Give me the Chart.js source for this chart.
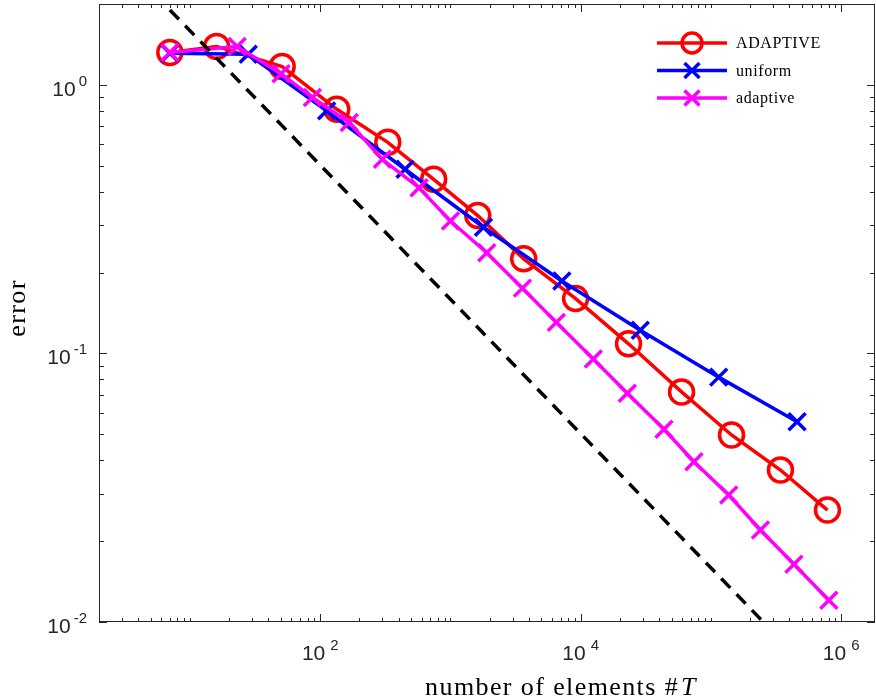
<!DOCTYPE html>
<html>
<head>
<meta charset="utf-8">
<title>error vs number of elements</title>
<script src="https://cdn.jsdelivr.net/npm/chart.js@4.4.0/dist/chart.umd.min.js"></script>
<style>
  html, body { margin: 0; padding: 0; background: #fff; }
  #chart { display: block; }
</style>
</head>
<body>
<canvas id="chart" width="876" height="700"></canvas>
<script>
// --- data ---
const nADAPTIVE = [7, 16, 51, 134, 330, 743, 1620, 3650, 9140, 23300, 59500, 144000, 342000, 785000];
const errADAPTIVE = [1.32, 1.39, 1.17, 0.811, 0.611, 0.445, 0.326, 0.225, 0.160, 0.1086, 0.0719, 0.0497, 0.0368, 0.0261];

const nUniform = [7, 28, 112, 448, 1792, 7168, 28672, 114688, 458752];
const errUniform = [1.31, 1.30, 0.80, 0.485, 0.295, 0.186, 0.122, 0.0816, 0.0557];

const nAdaptive = [7, 23, 50, 87, 167, 300, 574, 1000, 1900, 3570, 6500, 12500, 22800, 43600, 74100, 137000, 240000, 434000, 805000];
const errAdaptive = [1.32, 1.39, 1.10, 0.897, 0.724, 0.528, 0.414, 0.311, 0.237, 0.175, 0.1305, 0.0953, 0.0711, 0.0522, 0.0395, 0.0297, 0.0220, 0.0164, 0.01205];

// reference slope N^(-1/2)
const nSlope = [7, 1000000];
const errSlope = [1.9, 0.00503];

const xRange = [2, 1.82e6];
const yRange = [0.01, 2];
const xLabelTicks = [1e2, 1e4, 1e6];
const xLabelExp = ['2', '4', '6'];
const yLabelTicks = [1e0, 1e-1, 1e-2];
const yLabelExp = ['0', '-1', '-2'];

const axisColor = '#262626';
const serif = '"Liberation Serif", "Times New Roman", serif';

function pairs(xs, ys) {
  return xs.map((x, i) => ({ x: x, y: ys[i] }));
}

// --- axes box, inward ticks and tick labels (MATLAB look) ---
function drawPower(ctx, exp, x, y, align, gap) {
  ctx.font = '21px "Liberation Sans", Arial, sans-serif';
  const wBase = ctx.measureText('10').width;
  ctx.font = '15px "Liberation Sans", Arial, sans-serif';
  const wExp = ctx.measureText(exp).width;
  const total = wBase + gap + wExp;
  let start = x;
  if (align === 'center') start = x - total / 2;
  if (align === 'right') start = x - total;
  ctx.textAlign = 'left';
  ctx.textBaseline = 'alphabetic';
  ctx.font = '21px "Liberation Sans", Arial, sans-serif';
  ctx.fillText('10', start, y);
  ctx.font = '15px "Liberation Sans", Arial, sans-serif';
  ctx.fillText(exp, start + wBase + gap, y - 10);
}

const axesPlugin = {
  id: 'axesPlugin',
  afterDraw(chart) {
    const ctx = chart.ctx;
    const a = chart.chartArea;
    const xs = chart.scales.x;
    const ys = chart.scales.y;
    ctx.save();
    ctx.strokeStyle = axisColor;
    ctx.fillStyle = axisColor;
    ctx.lineWidth = 1;
    ctx.strokeRect(a.left + 0.5, a.top + 0.5, a.right - a.left - 1, a.bottom - a.top - 1);

    ctx.beginPath();
    for (let d = Math.floor(Math.log10(xRange[0])); d <= Math.ceil(Math.log10(xRange[1])); d++) {
      for (let m = 1; m <= 9; m++) {
        const v = m * Math.pow(10, d);
        if (v < xRange[0] || v > xRange[1]) continue;
        const px = Math.round(xs.getPixelForValue(v)) + 0.5;
        const major = m === 1 && xLabelTicks.some(t => Math.abs(t - v) < v * 1e-9);
        const len = major ? 8 : 4;
        ctx.moveTo(px, a.bottom); ctx.lineTo(px, a.bottom - len);
        ctx.moveTo(px, a.top); ctx.lineTo(px, a.top + len);
      }
    }
    for (let d = Math.floor(Math.log10(yRange[0])); d <= Math.ceil(Math.log10(yRange[1])); d++) {
      for (let m = 1; m <= 9; m++) {
        const v = m * Math.pow(10, d);
        if (v < yRange[0] * 0.999 || v > yRange[1]) continue;
        const py = Math.round(ys.getPixelForValue(v)) + 0.5;
        const len = m === 1 ? 8 : 5;
        ctx.moveTo(a.left, py); ctx.lineTo(a.left + len, py);
        ctx.moveTo(a.right, py); ctx.lineTo(a.right - len, py);
      }
    }
    ctx.stroke();

    xLabelTicks.forEach((t, i) => {
      drawPower(ctx, xLabelExp[i], xs.getPixelForValue(t), a.bottom + 38, 'center', 5);
    });
    yLabelTicks.forEach((t, i) => {
      drawPower(ctx, yLabelExp[i], a.left - 12, ys.getPixelForValue(t) + 11, 'right', 3);
    });

    // axis titles
    ctx.fillStyle = '#000';
    ctx.letterSpacing = '1.4px';
    ctx.font = '26px ' + serif;
    const txt = 'number of elements #';
    const wTxt = ctx.measureText(txt).width;
    ctx.font = 'italic 26px ' + serif;
    const wT = ctx.measureText('T').width;
    const startX = 561 - (wTxt + 2 + wT) / 2;
    ctx.textAlign = 'left';
    ctx.textBaseline = 'alphabetic';
    ctx.font = '26px ' + serif;
    ctx.fillText(txt, startX, 695);
    ctx.font = 'italic 26px ' + serif;
    ctx.fillText('T', startX + wTxt + 2, 695);

    ctx.save();
    ctx.translate(25, (a.top + a.bottom) / 2 - 5);
    ctx.rotate(-Math.PI / 2);
    ctx.textAlign = 'center';
    ctx.font = '26px ' + serif;
    ctx.fillText('error', 0, 0);
    ctx.restore();
    ctx.restore();
  }
};

// --- legend drawn in the top right corner ---
const legendPlugin = {
  id: 'legendPlugin',
  afterDraw(chart) {
    const ctx = chart.ctx;
    const rows = [0, 1, 2];
    ctx.save();
    rows.forEach((idx, r) => {
      const ds = chart.data.datasets[idx];
      const y = 43 + r * 27.5;
      ctx.strokeStyle = ds.borderColor;
      ctx.lineWidth = 3.5;
      ctx.beginPath();
      ctx.moveTo(657, y); ctx.lineTo(727, y);
      ctx.stroke();
      ctx.beginPath();
      if (ds.pointStyle === 'circle') {
        ctx.arc(692, y, 10, 0, Math.PI * 2);
      } else {
        const o = 7.5;
        ctx.moveTo(692 - o, y - o); ctx.lineTo(692 + o, y + o);
        ctx.moveTo(692 - o, y + o); ctx.lineTo(692 + o, y - o);
      }
      ctx.stroke();
      ctx.fillStyle = '#000';
      ctx.letterSpacing = '0.6px';
      ctx.font = '16px ' + serif;
      ctx.textAlign = 'left';
      ctx.textBaseline = 'middle';
      ctx.fillText(ds.label, 736, y + 1);
    });
    ctx.restore();
  }
};

function lineSet(label, xs, ys, color, style, order) {
  return {
    label: label,
    data: pairs(xs, ys),
    borderColor: color,
    backgroundColor: 'rgba(0,0,0,0)',
    borderWidth: 3.5,
    pointStyle: style,
    pointRadius: 12,
    pointHoverRadius: 12,
    pointBorderWidth: 3.5,
    pointBorderColor: color,
    pointBackgroundColor: 'rgba(0,0,0,0)',
    tension: 0,
    order: order
  };
}

const ctx = document.getElementById('chart').getContext('2d');
new Chart(ctx, {
  type: 'line',
  data: {
    datasets: [
      lineSet('ADAPTIVE', nADAPTIVE, errADAPTIVE, '#ff0000', 'circle', 3),
      lineSet('uniform', nUniform, errUniform, '#0000ff', 'crossRot', 2),
      lineSet('adaptive', nAdaptive, errAdaptive, '#ff00ff', 'crossRot', 1),
      {
        label: 'slope',
        data: pairs(nSlope, errSlope),
        borderColor: '#000000',
        borderWidth: 3.5,
        borderDash: [13, 9],
        pointRadius: 0,
        pointHoverRadius: 0,
        fill: false,
        tension: 0,
        order: 0
      }
    ]
  },
  options: {
    responsive: false,
    animation: false,
    events: [],
    layout: { autoPadding: false, padding: { left: 99, right: 1, top: 4, bottom: 78 } },
    scales: {
      x: { type: 'logarithmic', min: xRange[0], max: xRange[1], display: false },
      y: { type: 'logarithmic', min: yRange[0], max: yRange[1], display: false }
    },
    plugins: {
      legend: { display: false },
      tooltip: { enabled: false }
    }
  },
  plugins: [axesPlugin, legendPlugin]
});
</script>
</body>
</html>
